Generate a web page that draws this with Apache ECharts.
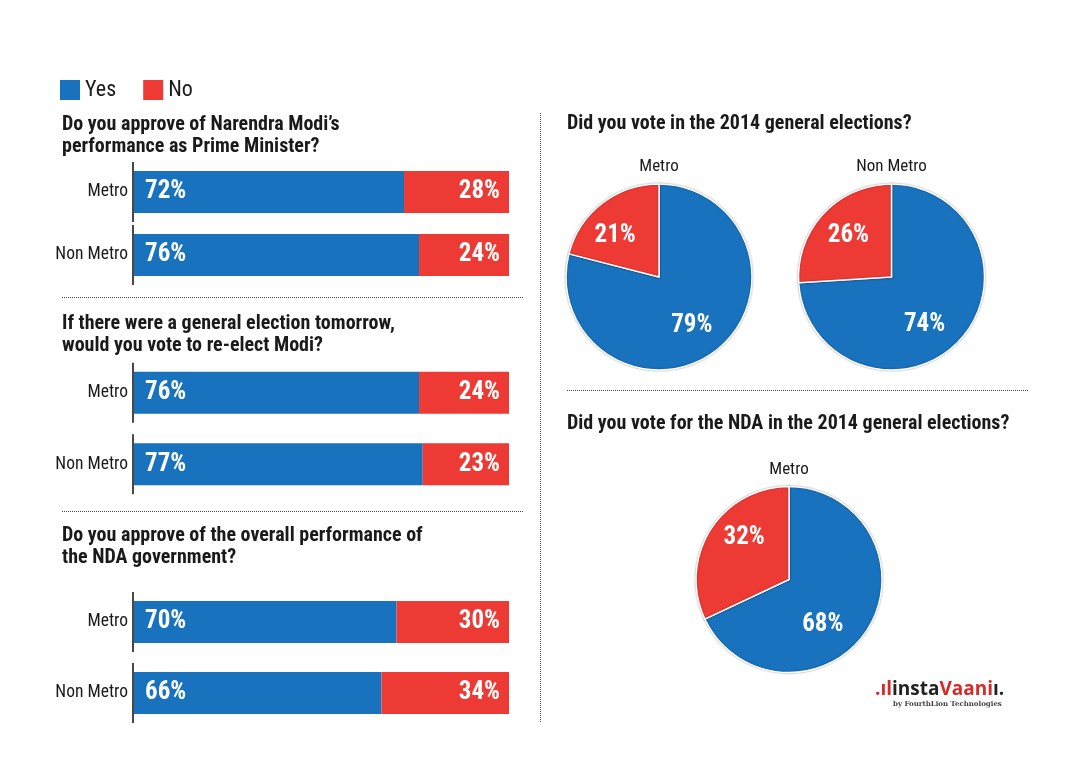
<!DOCTYPE html>
<html>
<head>
<meta charset="utf-8">
<script src="https://cdn.jsdelivr.net/npm/echarts@6/dist/echarts.min.js"></script>
<style>
html,body{margin:0;padding:0;background:#fff;}
#chart{width:1080px;height:758px;}
</style>
</head>
<body>
<div id="chart"></div>
<script>
// ---------- data ----------
const legendLabels = ['Yes', 'No'];
const categories = ['Metro', 'Non Metro'];
const barTitles = [
  "Do you approve of Narendra Modi\u2019s\nperformance as Prime Minister?",
  "If there were a general election tomorrow,\nwould you vote to re-elect Modi?",
  "Do you approve of the overall performance of\nthe NDA government?"
];
const barYes = [[72, 76], [76, 77], [70, 66]];
const barNo  = [[28, 24], [24, 23], [30, 34]];
const pieTitles = [
  'Did you vote in the 2014 general elections?',
  'Did you vote for the NDA in the 2014 general elections?'
];
const pieNames = ['Metro', 'Non Metro', 'Metro'];
const pieYes = [79, 74, 68];
const pieNo  = [21, 26, 32];

// ---------- style ----------
const BLUE = '#1872BE', RED = '#EE3A34', INK = '#1a1a1a';
function pickFont(list, fallback) {
  const c = document.createElement('canvas').getContext('2d');
  const s = 'abcdefghijklmnopqrstuvwxyzABCDEFGHIJ0123456789';
  c.font = '20px monospace'; const b1 = c.measureText(s).width;
  c.font = '20px serif'; const b2 = c.measureText(s).width;
  for (const f of list) {
    c.font = '20px "' + f + '", monospace'; const w1 = c.measureText(s).width;
    c.font = '20px "' + f + '", serif'; const w2 = c.measureText(s).width;
    if (w1 !== b1 && w2 !== b2) return f;
  }
  return fallback;
}
const FONT = pickFont(['Roboto Condensed', 'Liberation Sans Narrow', 'DejaVu Sans Condensed', 'Open Sans Condensed', 'Roboto'], 'sans-serif');
const condensed = FONT !== 'Roboto' && FONT !== 'sans-serif';
const SX = condensed ? 1 : 0.91; // horizontal squeeze for titles if no condensed font
const TITLE_FONT = 'bold ' + (condensed ? 20 : 19) + 'px "' + FONT + '"';

const gridTops = [160.5, 357, 586.5];
const gridHeights = [126, 143, 142];
const titleTops = [114, 313, 525];
const pieCenters = [[659, 277], [891.5, 277], [789, 579.5]];
const pieLabelShift = [[[2.5, 9.3], [-13.5, -2.3]], [[-3, 14], [-7, -7]], [[-8, 18.6], [-3, -15.6]]];

const grids = [], xAxes = [], yAxes = [], series = [], graphics = [];
barYes.forEach((yes, i) => {
  grids.push({ left: 134, width: 375, top: gridTops[i], height: gridHeights[i] });
  xAxes.push({ type: 'value', gridIndex: i, min: 0, max: 100, show: false });
  yAxes.push({
    type: 'category', gridIndex: i, data: categories, inverse: true,
    axisLine: { show: false }, axisTick: { show: false },
    axisLabel: { color: INK, fontFamily: FONT, fontSize: 17.5, margin: 6 }
  });
  series.push({
    name: legendLabels[0], type: 'bar', stack: 's' + i, xAxisIndex: i, yAxisIndex: i,
    data: yes, barWidth: 42, itemStyle: { color: BLUE },
    label: { show: true, position: 'insideLeft', distance: 11, formatter: '{c}%',
      color: '#fff', fontFamily: FONT, fontWeight: 'bold', fontSize: 25 }
  });
  series.push({
    name: legendLabels[1], type: 'bar', stack: 's' + i, xAxisIndex: i, yAxisIndex: i,
    data: barNo[i], barWidth: 42, itemStyle: { color: RED },
    label: { show: true, position: 'insideRight', distance: 9, formatter: '{c}%',
      color: '#fff', fontFamily: FONT, fontWeight: 'bold', fontSize: 25 }
  });
  // axis segments per category (drawn through scales at value 0)
  series.push({
    type: 'scatter', xAxisIndex: i, yAxisIndex: i, silent: true,
    data: categories.map(c => [0, c]), symbol: 'rect', symbolSize: [2, 60],
    symbolOffset: [-1, 0], itemStyle: { color: INK }, z: 5
  });
  graphics.push({
    type: 'text', left: 62, top: titleTops[i], scaleX: SX,
    style: { text: barTitles[i], fill: INK, font: TITLE_FONT, lineHeight: 22 }
  });
});

pieYes.forEach((y, k) => {
  series.push({
    type: 'pie', center: pieCenters[k], radius: 93, startAngle: 90, clockwise: true,
    silent: true,
    data: [
      { name: legendLabels[0], value: y, itemStyle: { color: BLUE } },
      { name: legendLabels[1], value: pieNo[k], itemStyle: { color: RED } }
    ],
    itemStyle: { borderColor: '#fff', borderWidth: 1.5, shadowBlur: 2, shadowColor: 'rgba(0,0,0,0.35)' },
    label: { show: true, position: 'inside', formatter: '{c}%', color: '#fff',
      fontFamily: FONT, fontWeight: 'bold', fontSize: 25 },
    labelLine: { show: false },
    labelLayout: p => ({ dx: pieLabelShift[k][p.dataIndex][0], dy: pieLabelShift[k][p.dataIndex][1] })
  });
  graphics.push({
    type: 'text', x: pieCenters[k][0], y: pieCenters[k][1] - 110,
    style: { text: pieNames[k], fill: INK, font: '17px "' + FONT + '"', align: 'center', verticalAlign: 'middle' }
  });
});

graphics.push(
  { type: 'text', left: 567, top: 114, scaleX: SX, style: { text: pieTitles[0], fill: INK, font: TITLE_FONT } },
  { type: 'text', left: 567, top: 414, scaleX: SX, style: { text: pieTitles[1], fill: INK, font: TITLE_FONT } },
  { type: 'line', shape: { x1: 62, y1: 297.5, x2: 524, y2: 297.5 }, style: { stroke: '#444', lineWidth: 1, lineDash: [1, 1] } },
  { type: 'line', shape: { x1: 62, y1: 511.5, x2: 524, y2: 511.5 }, style: { stroke: '#444', lineWidth: 1, lineDash: [1, 1] } },
  { type: 'line', shape: { x1: 567, y1: 390.5, x2: 1028, y2: 390.5 }, style: { stroke: '#444', lineWidth: 1, lineDash: [1, 1] } },
  { type: 'line', shape: { x1: 540.5, y1: 113, x2: 540.5, y2: 722 }, style: { stroke: '#444', lineWidth: 1, lineDash: [1, 1] } },
  { type: 'text', left: 875, top: 680,
    style: { text: '{r|.\u0131l}{k|insta}{r|Vaani}{k|\u0131.}',
      rich: {
        r: { fill: '#d42a2a', font: 'bold 19px "Open Sans"' },
        k: { fill: '#222', font: 'bold 19px "Open Sans"' }
      } } },
  { type: 'text', left: 893, top: 701,
    style: { text: 'by FourthLion Technologies', fill: '#444', font: 'bold 7px "DejaVu Serif"' } }
);

const chart = echarts.init(document.getElementById('chart'));
chart.setOption({
  animation: false,
  backgroundColor: '#fff',
  textStyle: { fontFamily: FONT },
  legend: {
    left: 60, top: 79, padding: 0, itemWidth: 20, itemHeight: 20, itemGap: 27,
    icon: 'rect', selectedMode: false,
    data: legendLabels.map((n, i) => ({ name: n, itemStyle: { color: i ? RED : BLUE } })),
    textStyle: { fontSize: 22, color: INK, fontFamily: FONT }
  },
  grid: grids, xAxis: xAxes, yAxis: yAxes, series: series, graphic: graphics
});
</script>
</body>
</html>
